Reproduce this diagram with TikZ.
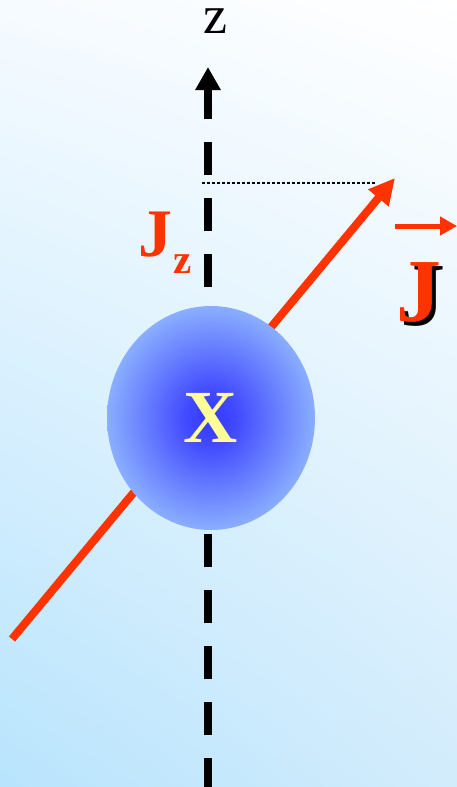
\documentclass[tikz,border=0pt]{standalone}
\usepackage{fontspec}
\setmainfont{Liberation Serif}
\usetikzlibrary{arrows.meta,shapes.geometric,shadings}
\definecolor{jred}{RGB}{255,51,0}
\definecolor{bgTL}{RGB}{246,251,255}
\definecolor{bgTR}{RGB}{255,255,255}
\definecolor{bgBL}{RGB}{184,228,253}
\definecolor{bgBR}{RGB}{210,236,252}
\definecolor{ballin}{RGB}{52,56,255}
\definecolor{ballout}{RGB}{138,174,255}
\definecolor{xyellow}{RGB}{255,255,153}
\pgfdeclareradialshading{ballshade}{\pgfpoint{0bp}{0bp}}{%
  color(0bp)=(ballin); color(6bp)=(ballin!85!ballout); color(16bp)=(ballin!40!ballout); color(25bp)=(ballout); color(50bp)=(ballout)}
\tikzset{
  axisline/.style={line width=8.5pt, dash pattern=on 33pt off 23pt, dash phase=4pt, -{Triangle[length=23pt,width=24pt]}},
  jline/.style={jred, line width=8pt, -{Triangle[length=26pt,width=25pt]}},
  vecline/.style={jred, line width=5pt, -{Triangle[length=17pt,width=18pt]}},
  dotline/.style={line width=2pt, dash pattern=on 2.5pt off 2.5pt},
  ball/.style={ellipse, minimum width=208pt, minimum height=224pt, inner sep=0pt, shading=ballshade, draw=none},
  lbl/.style={inner sep=0pt, outer sep=0pt},
}
\begin{document}
\begin{tikzpicture}[x=1pt,y=-1pt]
\useasboundingbox (0,0) rectangle (457,787);
\shade[upper left=bgTL, upper right=bgTR, lower left=bgBL, lower right=bgBR] (0,0) rectangle (457,787);
% axis
\coordinate (zbot) at (208,787);
\coordinate (ztop) at (208,67);
\draw[axisline] (zbot) -- (ztop);
\node[lbl, anchor=base, text height=23pt, text depth=0pt] (zlab) at (215,33) {\fontsize{54}{54}\selectfont z};
% J vector line
\coordinate (jstart) at (12,639);
\coordinate (jtip) at (395,178);
\draw[jline] (jstart) -- (jtip);
% dotted projection
\coordinate (dleft) at (202,183);
\coordinate (dright) at (375,183);
\draw[dotline] (dleft) -- (dright);
% ball
\node[ball] (x) at (211,418) {\fontsize{75}{75}\selectfont\bfseries\color{xyellow}X};
% Jz label
\node[lbl, anchor=base west, text=jred, text height=44pt, text depth=0pt] (jz) at (138,256) {\fontsize{68}{68}\selectfont\bfseries J};
\node[lbl, anchor=base west, text=jred, text height=18pt, text depth=0pt] (jzsub) at (173,273) {\fontsize{41}{41}\selectfont\bfseries z};
% big J with shadow
\node[lbl, anchor=base west, text height=60pt, text depth=0pt] (jbig) at (396,321) {\fontsize{90}{90}\selectfont\bfseries\rlap{\hspace{4pt}\raisebox{-4pt}{\color{black}J}}\color{jred}J};
\coordinate (vs) at (395,226);
\coordinate (ve) at (457,226);
\draw[vecline] (vs) -- (ve);
\end{tikzpicture}
\end{document}
